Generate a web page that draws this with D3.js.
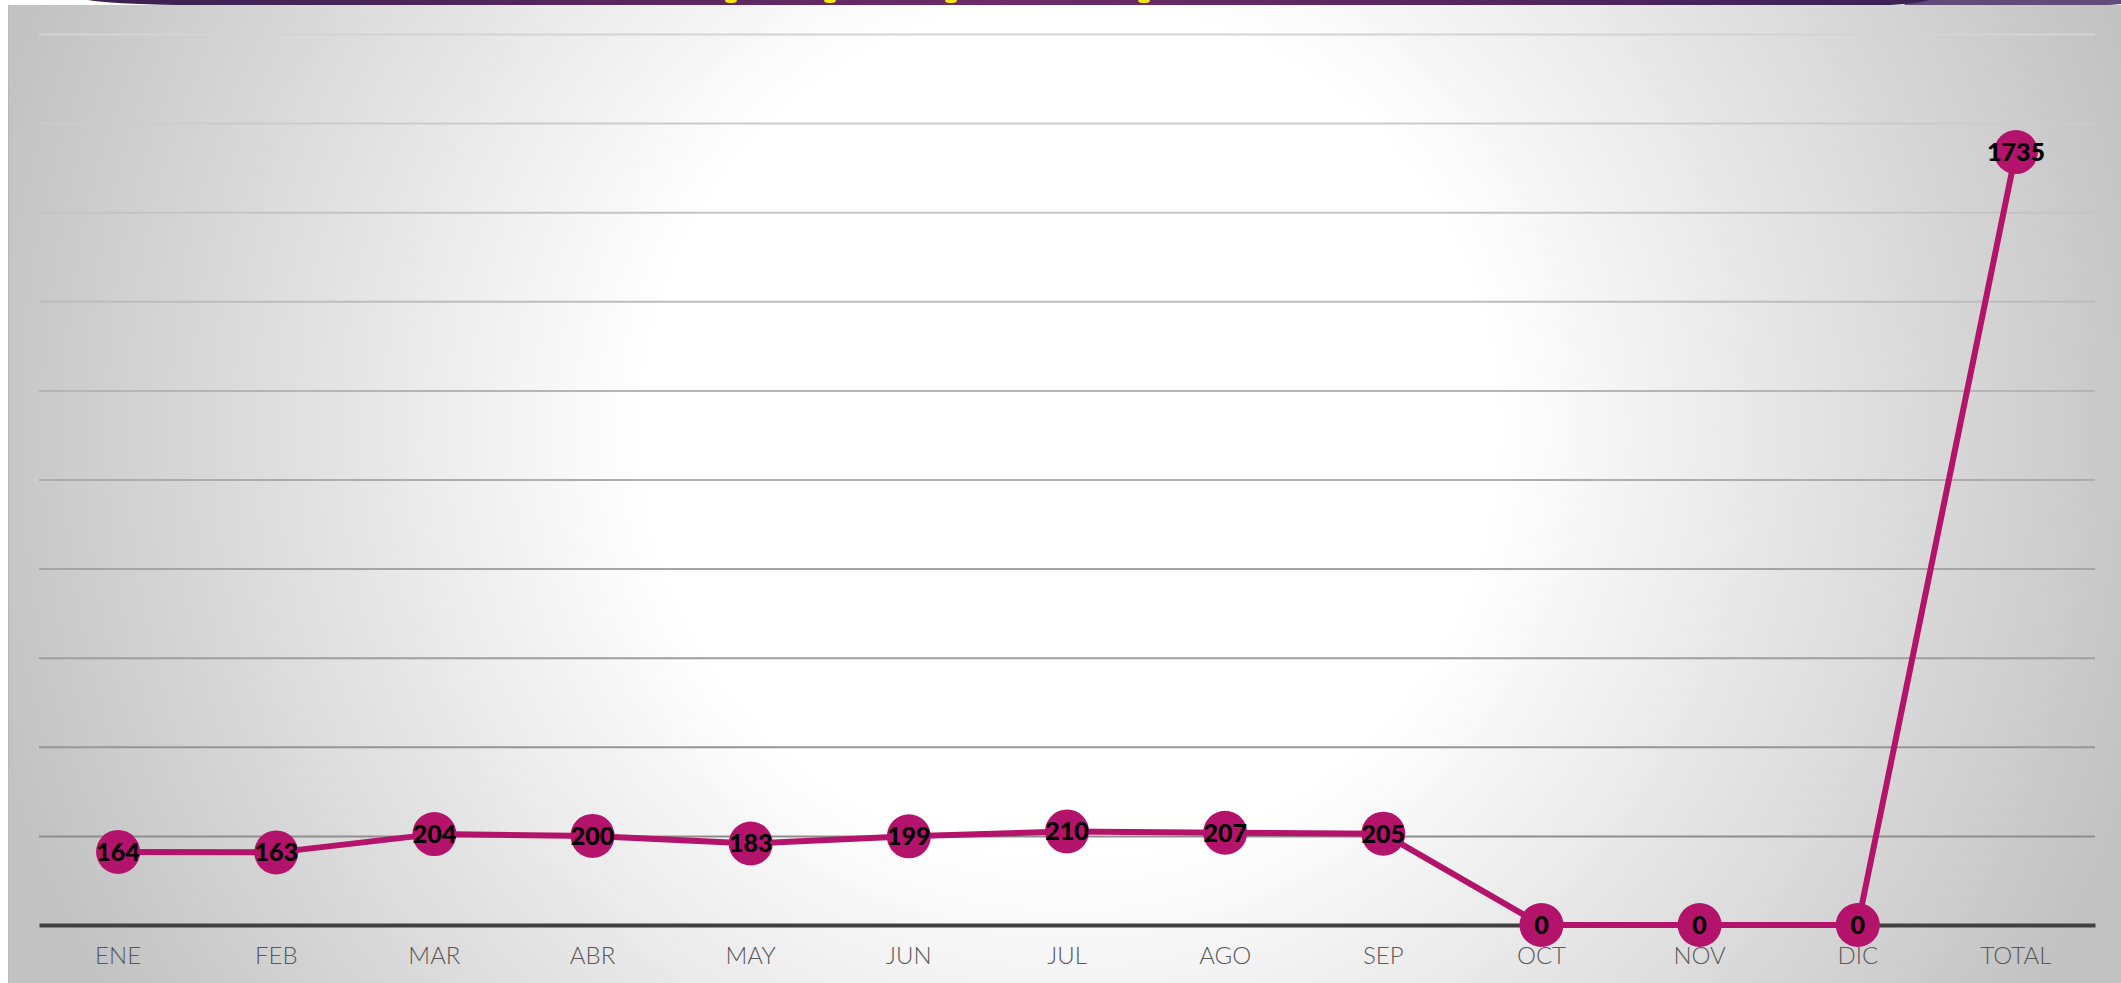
<!DOCTYPE html>
<html>
<head>
<meta charset="utf-8">
<script src="https://cdn.jsdelivr.net/npm/d3@7"></script>
<style>
  html, body { margin: 0; padding: 0; background: #ffffff; overflow: hidden; }
  .xlabel { font-family: "Lato", "DejaVu Sans", sans-serif; font-weight: 300; }
  .dlabel { font-family: "Lato", "DejaVu Sans", sans-serif; font-weight: 900; }
</style>
</head>
<body>
<div class="chart"></div>
<script>
// months as in the sheet, last column is the year total
const months = ["ENE", "FEB", "MAR", "ABR", "MAY", "JUN", "JUL", "AGO", "SEP", "OCT", "NOV", "DIC", "TOTAL"];
const values = [164, 163, 204, 200, 183, 199, 210, 207, 205, 0, 0, 0, 1735];
const yTicks = [0, 200, 400, 600, 800, 1000, 1200, 1400, 1600, 1800, 2000];

document.addEventListener("DOMContentLoaded", drawChart);

function drawChart() {
  const w = 2121;
  const h = 983;
  const root = d3.select(".chart");
  root.selectAll("svg").remove();

  const svg = root.append("svg")
    .attr("width", w)
    .attr("height", h)
    .attr("viewBox", `0 0 ${w} ${h}`);

  const defs = svg.append("defs");

  // background: white glow in the middle, gray to the edges
  const bg = defs.append("radialGradient")
    .attr("id", "bgGrad")
    .attr("gradientUnits", "userSpaceOnUse")
    .attr("cx", 1070).attr("cy", 430).attr("r", 1120);
  bg.append("stop").attr("offset", "0").attr("stop-color", "#ffffff");
  bg.append("stop").attr("offset", "0.38").attr("stop-color", "#ffffff");
  bg.append("stop").attr("offset", "1").attr("stop-color", "#c2c2c2");

  const titleGrad = defs.append("linearGradient")
    .attr("id", "titleGrad")
    .attr("x1", "0").attr("x2", "1").attr("y1", "0").attr("y2", "0");
  titleGrad.append("stop").attr("offset", "0").attr("stop-color", "#3a2150");
  titleGrad.append("stop").attr("offset", "0.5").attr("stop-color", "#6e2c68");
  titleGrad.append("stop").attr("offset", "1").attr("stop-color", "#3b2152");

  // panel
  svg.append("rect")
    .attr("x", 8).attr("y", 5)
    .attr("width", w - 8).attr("height", h - 5)
    .attr("fill", "url(#bgGrad)");
  svg.append("line")
    .attr("x1", 8.5).attr("x2", 8.5).attr("y1", 5).attr("y2", h)
    .attr("stroke", "#b8b8b8").attr("stroke-width", 1);

  // title banner (cut off at the top of the picture)
  svg.append("path")
    .attr("d", "M1900,0 L2121,0 L2121,4 L2110,5 L1905,5 Z")
    .attr("fill", "#5f4c78");
  svg.append("path")
    .attr("d", "M88,0 L1930,0 Q1915,4 1890,5 L180,5 Q110,4 88,0 Z")
    .attr("fill", "url(#titleGrad)");
  const titleBits = [731, 830, 951, 1144];
  svg.append("g")
    .selectAll("ellipse")
    .data(titleBits)
    .enter()
    .append("ellipse")
    .attr("cx", (d) => d)
    .attr("cy", 1)
    .attr("rx", 6)
    .attr("ry", 2)
    .attr("fill", "#f5e600");

  const xScale = d3.scaleBand()
    .domain(months)
    .range([39, 2095]);

  const yScale = d3.scaleLinear()
    .domain([0, 2000])
    .range([925, 34]);

  const gridColor = d3.scaleLinear()
    .domain([2000, 200])
    .range(["#d4d4d4", "#8e8e8e"]);

  // gridlines from the axis generator
  const grid = svg.append("g")
    .attr("transform", "translate(39,0)")
    .call(d3.axisLeft(yScale)
      .tickValues(yTicks.filter((d) => d > 0))
      .tickSize(-(2095 - 39))
      .tickFormat(""));
  grid.select(".domain").remove();
  grid.selectAll(".tick line")
    .attr("stroke", (d) => gridColor(d))
    .attr("stroke-width", 2);

  // category axis
  const xAxis = svg.append("g")
    .attr("transform", `translate(0,${yScale(0)})`)
    .call(d3.axisBottom(xScale).tickSize(0).tickPadding(21));
  xAxis.select(".domain")
    .attr("stroke", "#404040")
    .attr("stroke-width", 4);
  xAxis.selectAll(".tick text")
    .attr("class", "xlabel")
    .attr("fill", "#595959")
    .style("font-size", "24px")
    .attr("dy", "0.75em");

  const cx = (d, i) => xScale(months[i]) + xScale.bandwidth() / 2;

  const line = d3.line()
    .x((d, i) => cx(d, i))
    .y((d) => yScale(d));

  svg.append("path")
    .datum(values)
    .attr("d", line)
    .attr("fill", "none")
    .attr("stroke", "#b3136a")
    .attr("stroke-width", 6)
    .attr("stroke-linejoin", "round");

  const points = svg.append("g")
    .selectAll("g")
    .data(values)
    .enter()
    .append("g")
    .attr("transform", (d, i) => `translate(${cx(d, i)},${yScale(d)})`);

  points.append("circle")
    .attr("r", 22)
    .attr("fill", "#b3136a");

  points.append("text")
    .attr("class", "dlabel")
    .attr("text-anchor", "middle")
    .attr("dy", "0.36em")
    .style("font-size", "25px")
    .attr("fill", "#000000")
    .text((d) => d);
}
</script>
</body>
</html>
